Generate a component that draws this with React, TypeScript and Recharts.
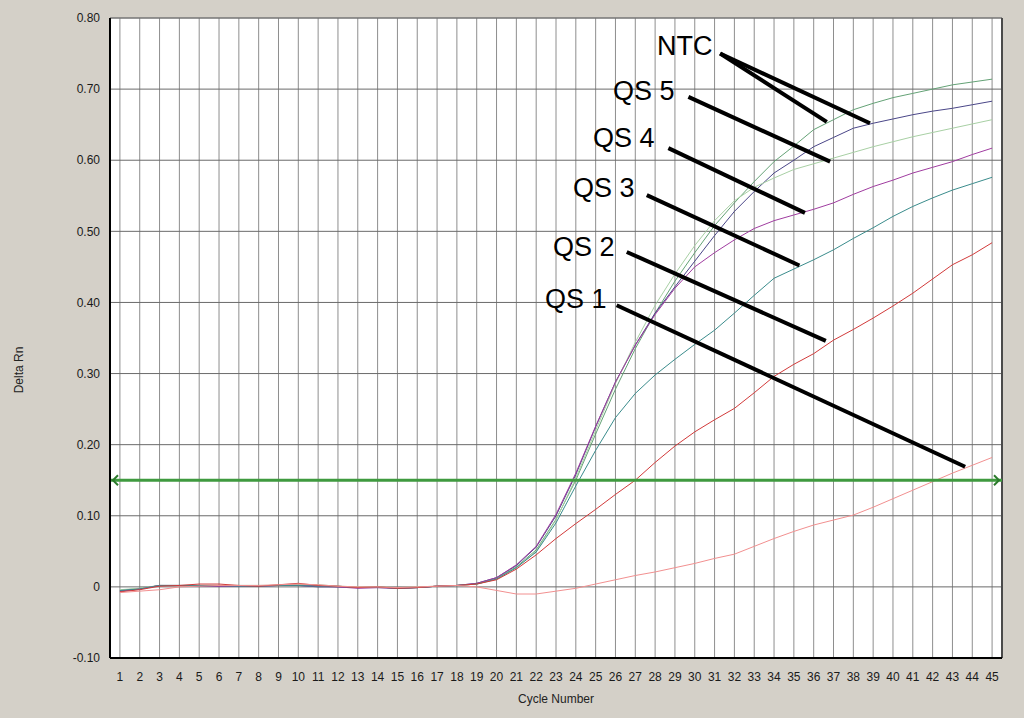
import React from 'react';
import { LineChart, Line, XAxis, YAxis, CartesianGrid, ReferenceLine, ReferenceDot } from 'recharts';

const cycles = [1, 2, 3, 4, 5, 6, 7, 8, 9, 10, 11, 12, 13, 14, 15, 16, 17, 18, 19, 20, 21, 22, 23, 24, 25, 26, 27, 28, 29, 30, 31, 32, 33, 34, 35, 36, 37, 38, 39, 40, 41, 42, 43, 44, 45];
const yTicks = [-0.1, 0, 0.1, 0.2, 0.3, 0.4, 0.5, 0.6, 0.7, 0.8];

const ntcA = [-0.005, -0.002, 0.002, 0.002, 0.002, 0.002, 0.002, 0.002, 0.002, 0.003, 0.002, 0.0, -0.001, 0.0, -0.002, -0.001, 0.001, 0.002, 0.004, 0.012, 0.028, 0.052, 0.095, 0.15, 0.215, 0.278, 0.335, 0.385, 0.43, 0.47, 0.508, 0.54, 0.57, 0.598, 0.62, 0.643, 0.657, 0.671, 0.68, 0.688, 0.694, 0.7, 0.706, 0.71, 0.714];
const ntcB = [-0.006, -0.003, 0.002, 0.002, 0.001, 0.001, 0.001, 0.001, 0.002, 0.002, 0.0, 0.0, -0.001, -0.001, -0.002, -0.001, 0.001, 0.002, 0.005, 0.013, 0.03, 0.056, 0.1, 0.158, 0.225, 0.288, 0.34, 0.385, 0.422, 0.458, 0.494, 0.528, 0.556, 0.582, 0.6, 0.619, 0.632, 0.645, 0.652, 0.658, 0.664, 0.669, 0.673, 0.678, 0.683];
const qs5 = [-0.004, -0.002, 0.002, 0.002, 0.002, 0.002, 0.002, 0.002, 0.002, 0.003, 0.003, 0.001, 0.0, 0.0, -0.001, 0.0, 0.001, 0.002, 0.004, 0.011, 0.027, 0.05, 0.094, 0.153, 0.22, 0.286, 0.344, 0.396, 0.44, 0.48, 0.515, 0.543, 0.562, 0.575, 0.587, 0.595, 0.603, 0.611, 0.619, 0.626, 0.633, 0.639, 0.645, 0.651, 0.657];
const qs4 = [-0.006, -0.003, 0.002, 0.002, 0.002, 0.001, 0.001, 0.001, 0.002, 0.002, 0.001, 0.0, -0.002, -0.001, -0.002, -0.001, 0.001, 0.002, 0.005, 0.013, 0.031, 0.057, 0.102, 0.16, 0.226, 0.288, 0.34, 0.383, 0.42, 0.45, 0.47, 0.488, 0.504, 0.515, 0.523, 0.531, 0.54, 0.552, 0.563, 0.572, 0.582, 0.59, 0.598, 0.608, 0.617];
const qs3 = [-0.005, -0.003, 0.002, 0.002, 0.002, 0.002, 0.001, 0.001, 0.002, 0.002, 0.001, 0.001, -0.001, 0.0, -0.002, -0.001, 0.001, 0.002, 0.004, 0.011, 0.027, 0.049, 0.09, 0.142, 0.192, 0.238, 0.272, 0.298, 0.32, 0.341, 0.361, 0.385, 0.41, 0.434, 0.447, 0.46, 0.474, 0.49, 0.505, 0.521, 0.535, 0.547, 0.558, 0.567, 0.576];
const qs2 = [-0.007, -0.004, 0.001, 0.002, 0.004, 0.004, 0.002, 0.001, 0.003, 0.005, 0.002, 0.001, -0.001, 0.0, -0.002, -0.001, 0.001, 0.002, 0.004, 0.01, 0.025, 0.045, 0.068, 0.089, 0.109, 0.13, 0.15, 0.175, 0.198, 0.218, 0.235, 0.251, 0.273, 0.296, 0.313, 0.328, 0.347, 0.362, 0.378, 0.395, 0.413, 0.433, 0.453, 0.467, 0.484];
const qs1 = [-0.008, -0.006, -0.004, 0.0, 0.001, 0.002, 0.002, 0.002, 0.003, 0.004, 0.003, 0.001, 0.0, 0.0, -0.001, 0.0, 0.001, 0.002, 0.0, -0.005, -0.01, -0.01, -0.006, -0.002, 0.004, 0.01, 0.016, 0.021, 0.027, 0.033, 0.04, 0.046, 0.057, 0.068, 0.078, 0.087, 0.094, 0.101, 0.112, 0.124, 0.136, 0.148, 0.16, 0.171, 0.182];

const threshold = 0.15;

// annotation labels (text anchor: left/baseline in data coords)
const labelTexts = ['NTC', 'QS 5', 'QS 4', 'QS 3', 'QS 2', 'QS 1'];
const labelCycle = [28.1, 25.88, 24.87, 23.86, 22.85, 22.44];
const labelValue = [0.748, 0.685, 0.619, 0.548, 0.465, 0.392];

// pointer lines (start -> end in data coords)
const pointerStartCycle = [31.28, 31.28, 29.68, 28.67, 27.58, 26.57, 26.06];
const pointerStartValue = [0.75, 0.75, 0.689, 0.617, 0.551, 0.471, 0.396];
const pointerEndCycle = [36.66, 38.84, 36.83, 35.56, 35.28, 36.61, 43.64];
const pointerEndValue = [0.654, 0.652, 0.598, 0.526, 0.452, 0.346, 0.169];

const seriesKeys = ['ntcA', 'ntcB', 'qs5', 'qs4', 'qs3', 'qs2', 'qs1'];
const seriesColors = ['#64a276', '#4a4688', '#a8d0a4', '#a03ca0', '#3a8c8c', '#d23a3a', '#f29090'];

const data = cycles.map((c, i) => ({
  cycle: c,
  ntcA: ntcA[i],
  ntcB: ntcB[i],
  qs5: qs5[i],
  qs4: qs4[i],
  qs3: qs3[i],
  qs2: qs2[i],
  qs1: qs1[i],
}));

const FONT = "'Liberation Sans', Arial, sans-serif";

const ThresholdShape = (p: any) => {
  const { x1, y1, x2, y2 } = p;
  return (
    <g>
      <line x1={x1} y1={y1} x2={x2} y2={y2} stroke="#3f9a3f" strokeWidth={3} />
      <polyline
        points={`${x1 + 8},${y1 - 5} ${x1 + 3},${y1} ${x1 + 8},${y1 + 5}`}
        fill="none"
        stroke="#2c7a2c"
        strokeWidth={2}
      />
      <polyline
        points={`${x2 - 8},${y2 - 5} ${x2 - 3},${y2} ${x2 - 8},${y2 + 5}`}
        fill="none"
        stroke="#2c7a2c"
        strokeWidth={2}
      />
    </g>
  );
};

const makeLabel = (text: string) => (props: any) => {
  const vb = props.viewBox || {};
  const x = vb.x !== undefined ? vb.x + (vb.width || 0) / 2 : props.x;
  const y = vb.y !== undefined ? vb.y + (vb.height || 0) / 2 : props.y;
  return (
    <text x={x} y={y} fontSize={27} fontFamily={FONT} fill="#000" textAnchor="start">
      {text}
    </text>
  );
};

export default function App() {
  return (
    <div
      style={{
        position: 'absolute',
        left: 0,
        top: 0,
        width: 1024,
        height: 718,
        background: '#d4d0c8',
        overflow: 'hidden',
      }}
    >
      <LineChart
        width={1024}
        height={718}
        data={data}
        margin={{ top: 18, right: 22, left: 50, bottom: 30 }}
      >
        <rect />
        <CartesianGrid horizontal={false} stroke="#8e8e8e" strokeWidth={1} fill="#ffffff" />
        <CartesianGrid vertical={false} stroke="#6a6a6a" strokeWidth={1} />
        <XAxis
          dataKey="cycle"
          type="number"
          domain={[0.5, 45.5]}
          ticks={cycles}
          interval={0}
          allowDataOverflow
          height={30}
          tickLine={false}
          tickSize={6}
          tickMargin={8}
          axisLine={{ stroke: '#000', strokeWidth: 2 }}
          tick={{ fontSize: 12, fontFamily: FONT, fill: '#1a1a1a' }}
        />
        <YAxis
          type="number"
          domain={[-0.1, 0.8]}
          ticks={yTicks}
          interval={0}
          allowDataOverflow
          width={60}
          tickLine={false}
          tickSize={6}
          tickMargin={4}
          axisLine={{ stroke: '#000', strokeWidth: 2 }}
          tick={{ fontSize: 12, fontFamily: FONT, fill: '#1a1a1a' }}
          tickFormatter={(v: number) => (v === 0 ? '0' : v.toFixed(2))}
        />
        <ReferenceLine y={0.8} stroke="#7a7a7a" strokeWidth={1} />
        <ReferenceLine x={45.5} stroke="#4a4a4a" strokeWidth={2} />
        {seriesKeys.map((k, i) => (
          <Line
            key={k}
            dataKey={k}
            type="linear"
            stroke={seriesColors[i]}
            strokeWidth={1}
            dot={false}
            activeDot={false}
            isAnimationActive={false}
          />
        ))}
        <ReferenceLine y={threshold} shape={ThresholdShape} />
        {pointerStartCycle.map((sc, i) => (
          <ReferenceLine
            key={`ptr-${i}`}
            segment={[
              { x: sc, y: pointerStartValue[i] },
              { x: pointerEndCycle[i], y: pointerEndValue[i] },
            ]}
            stroke="#000"
            strokeWidth={4}
          />
        ))}
        {labelTexts.map((t, i) => (
          <ReferenceDot
            key={`lbl-${i}`}
            x={labelCycle[i]}
            y={labelValue[i]}
            r={0}
            fill="none"
            stroke="none"
            label={makeLabel(t)}
          />
        ))}
      </LineChart>
      <div
        style={{
          position: 'absolute',
          left: 456,
          top: 692,
          width: 200,
          textAlign: 'center',
          fontSize: 12,
          fontFamily: FONT,
          color: '#222',
        }}
      >
        Cycle Number
      </div>
      <div
        style={{
          position: 'absolute',
          left: 19 - 50,
          top: 370 - 8,
          width: 100,
          textAlign: 'center',
          fontSize: 12,
          fontFamily: FONT,
          color: '#222',
          transform: 'rotate(-90deg)',
          transformOrigin: '50px 8px',
          lineHeight: '16px',
        }}
      >
        Delta Rn
      </div>
    </div>
  );
}
